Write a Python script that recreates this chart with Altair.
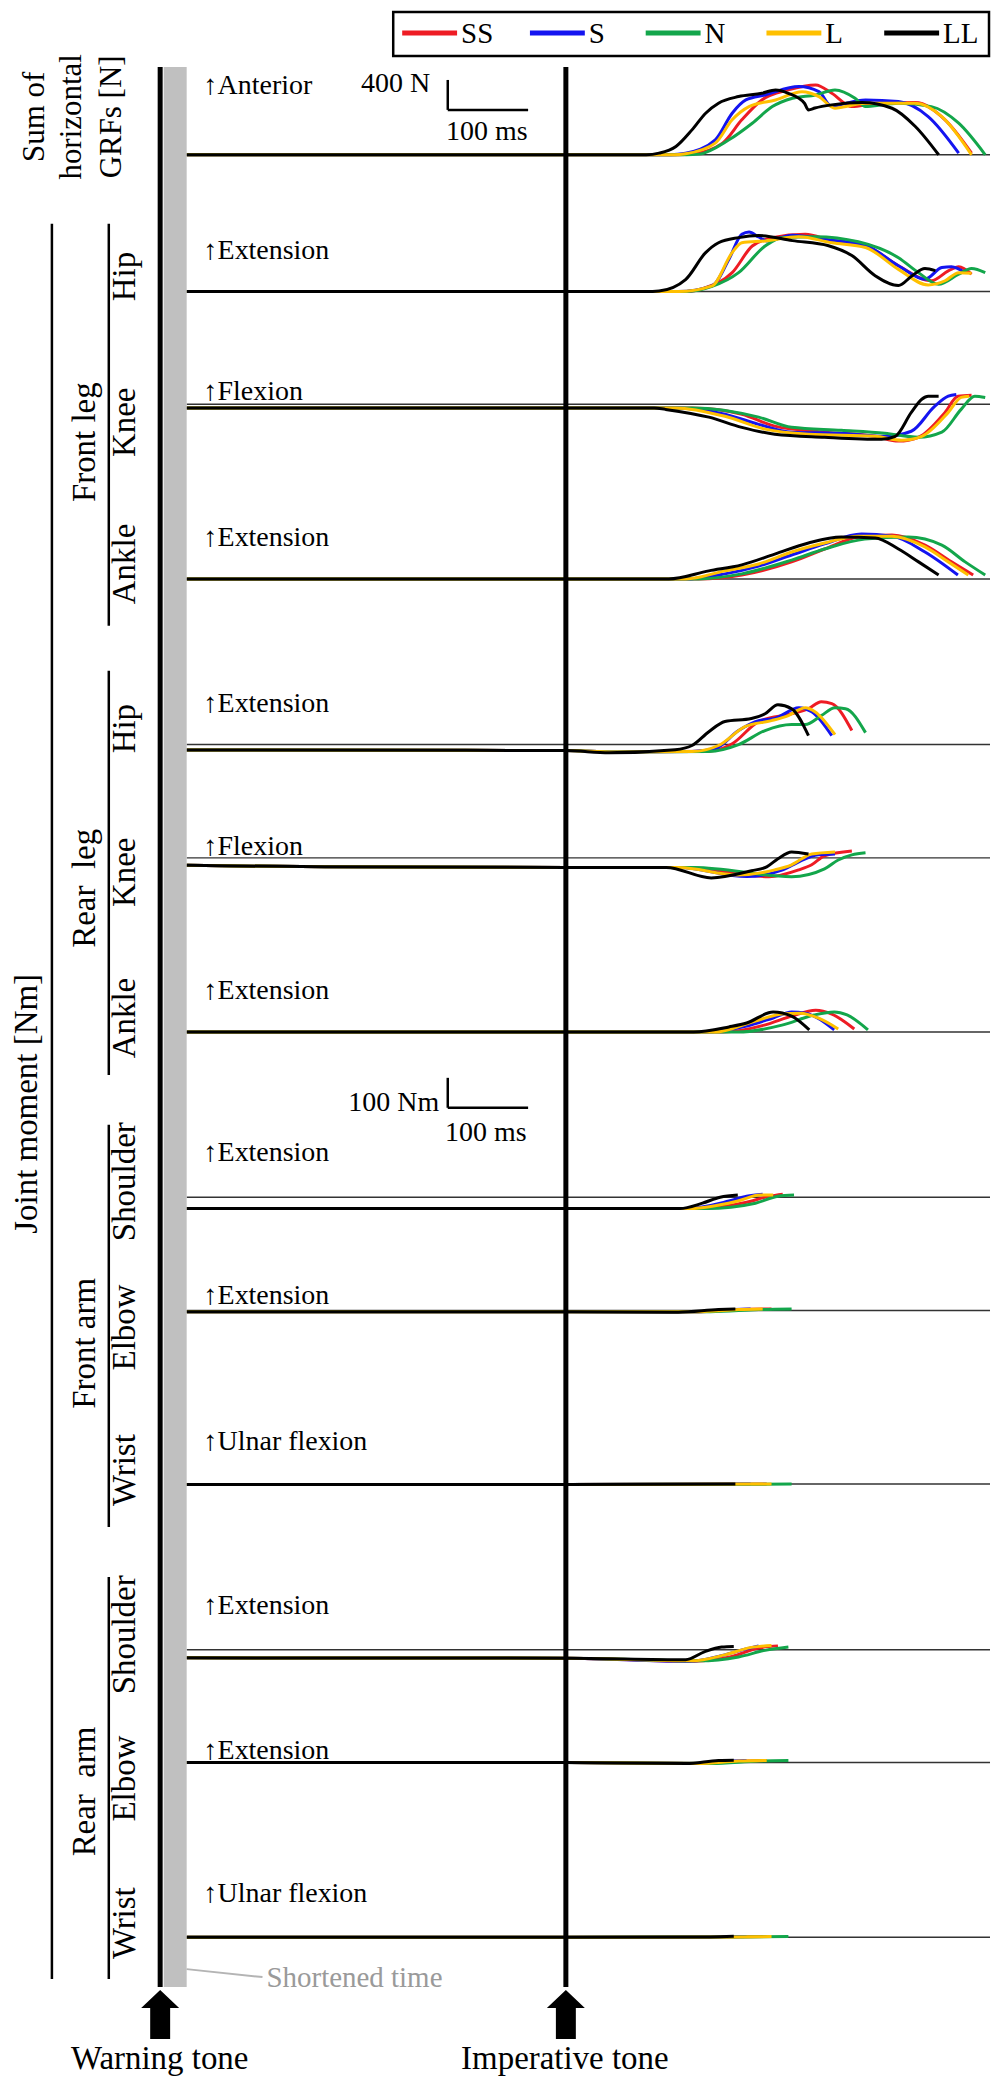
import altair as alt
import pandas as pd

SERIF = "Liberation Serif"

CONDITIONS = ["SS", "S", "N", "L", "LL"]
CONDITION_COLORS = ["#ee1c24", "#1414f0", "#13a64b", "#ffc000", "#000000"]

# (time [ms] relative to imperative tone, value) ; GRF in N, joint moments in Nm
GRF_SUM = {
    "SS": [(-472, 0), (0, 0), (140, 0), (157, 10), (195, 156), (219, 467), (244, 733), (277, 867), (311, 933), (331, 822), (356, 644), (385, 689), (435, 698), (472, 467), (505, 22)],
    "S": [(-472, 0), (0, 0), (130, 0), (149, 20), (186, 200), (207, 556), (224, 733), (248, 800), (290, 911), (315, 844), (331, 644), (340, 665), (373, 733), (414, 711), (451, 511), (489, 22)],
    "N": [(-472, 0), (0, 0), (150, 0), (166, 9), (203, 200), (232, 422), (257, 644), (282, 756), (311, 800), (335, 867), (360, 756), (373, 644), (382, 652), (414, 689), (455, 644), (489, 422), (522, 0)],
    "L": [(-472, 0), (0, 0), (135, 0), (149, 13), (186, 156), (207, 467), (228, 644), (261, 733), (294, 844), (315, 778), (335, 622), (345, 640), (373, 689), (435, 689), (468, 511), (505, 0)],
    "LL": [(-472, 0), (0, 0), (100, 0), (116, 22), (137, 111), (157, 333), (174, 556), (190, 689), (215, 778), (244, 822), (261, 867), (277, 822), (297, 689), (302, 600), (310, 625), (331, 667), (369, 698), (406, 622), (435, 378), (464, 0)],
}
FRONT_HIP = {
    "SS": [(-472, 0), (0, 0), (150, 0), (174, 13), (207, 63), (232, 152), (257, 180), (298, 191), (331, 169), (373, 152), (414, 86), (455, 36), (476, 69), (489, 83), (505, 58)],
    "S": [(-472, 0), (0, 0), (140, 0), (182, 19), (203, 108), (219, 191), (228, 199), (240, 182), (250, 169), (282, 188), (323, 174), (373, 154), (414, 86), (447, 41), (468, 80), (480, 83), (497, 63)],
    "N": [(-472, 0), (0, 0), (150, 0), (182, 17), (215, 63), (248, 152), (269, 180), (311, 183), (364, 166), (414, 113), (439, 63), (464, 24), (489, 58), (505, 77), (522, 63)],
    "L": [(-472, 0), (0, 0), (140, 0), (182, 19), (207, 130), (219, 163), (248, 169), (290, 183), (331, 163), (373, 147), (414, 74), (451, 22), (472, 36), (489, 63), (505, 61)],
    "LL": [(-472, 0), (0, 0), (100, 0), (116, 2), (149, 40), (174, 130), (190, 163), (215, 180), (240, 187), (282, 170), (327, 153), (356, 120), (385, 53), (414, 20), (431, 53), (447, 77), (460, 70)],
}
FRONT_KNEE = {
    "SS": [(-472, -12), (0, -12), (157, -12), (219, -33), (260, -73), (322, -93), (385, -107), (414, -123), (439, -110), (472, -27), (488, 27), (505, 30)],
    "S": [(-472, -12), (0, -12), (136, -12), (198, -33), (240, -67), (281, -93), (343, -97), (397, -107), (430, -90), (459, -7), (476, 27), (486, 33)],
    "N": [(-472, -12), (0, -12), (157, -12), (240, -43), (281, -77), (343, -87), (397, -97), (439, -110), (468, -93), (492, -17), (509, 27), (522, 23)],
    "L": [(-472, -12), (0, -12), (136, -12), (198, -40), (248, -83), (302, -100), (385, -107), (418, -120), (443, -107), (476, -27), (492, 23), (502, 27)],
    "LL": [(-472, -12), (0, -12), (110, -12), (124, -17), (178, -43), (219, -77), (260, -100), (322, -110), (393, -117), (410, -107), (430, -27), (443, 17), (451, 27), (464, 27)],
}
FRONT_ANKLE = {
    "SS": [(-472, 0), (0, 0), (165, 0), (219, 13), (281, 57), (322, 100), (364, 140), (406, 147), (447, 113), (480, 57), (507, 13)],
    "S": [(-472, 0), (0, 0), (149, 0), (198, 17), (240, 43), (281, 80), (322, 117), (368, 150), (406, 143), (447, 90), (488, 13)],
    "N": [(-472, 0), (0, 0), (165, 0), (219, 17), (281, 63), (322, 100), (372, 133), (426, 140), (468, 113), (497, 57), (522, 13)],
    "L": [(-472, 0), (0, 0), (149, 0), (198, 27), (240, 50), (281, 90), (322, 120), (364, 143), (406, 143), (447, 107), (476, 57), (501, 13)],
    "LL": [(-472, 0), (0, 0), (128, 0), (178, 27), (219, 47), (260, 83), (302, 120), (343, 140), (385, 137), (414, 100), (439, 57), (464, 13)],
}
REAR_HIP = {
    "SS": [(-472, -18), (0, -20), (60, -25), (178, -22), (207, 3), (240, 77), (281, 103), (302, 120), (318, 143), (331, 137), (356, 47)],
    "S": [(-472, -18), (0, -20), (60, -25), (157, -23), (186, -13), (215, 47), (240, 80), (260, 87), (290, 123), (306, 110), (331, 30)],
    "N": [(-472, -18), (0, -20), (60, -25), (178, -23), (215, 0), (248, 47), (281, 67), (298, 67), (318, 97), (335, 123), (348, 120), (373, 40)],
    "L": [(-472, -18), (0, -20), (60, -25), (157, -23), (190, -3), (223, 60), (256, 80), (277, 97), (298, 123), (310, 110), (335, 33)],
    "LL": [(-472, -18), (0, -20), (54, -27), (136, -17), (157, -3), (178, 43), (198, 77), (231, 87), (248, 103), (264, 133), (281, 120), (302, 30)],
}
REAR_KNEE = {
    "SS": [(-472, -25), (-300, -30), (0, -32), (150, -32), (253, -63), (290, -40), (306, -23), (322, 7), (356, 23)],
    "S": [(-472, -25), (-300, -30), (0, -32), (140, -32), (225, -62), (270, -40), (290, -13), (314, 10), (335, 13)],
    "N": [(-472, -25), (-300, -30), (0, -32), (160, -32), (281, -63), (322, -37), (339, -7), (356, 10), (373, 17)],
    "L": [(-472, -25), (-300, -30), (0, -32), (140, -32), (214, -57), (260, -40), (281, -23), (306, 13), (335, 20)],
    "LL": [(-472, -25), (-300, -30), (0, -32), (125, -32), (181, -67), (231, -43), (250, -30), (264, -3), (281, 20), (302, 13)],
}
REAR_ANKLE = {
    "SS": [(-472, 0), (0, 0), (196, 0), (247, 23), (281, 53), (311, 73), (331, 60), (359, 10)],
    "S": [(-472, 0), (0, 0), (170, 0), (225, 20), (258, 47), (281, 67), (298, 63), (334, 7)],
    "N": [(-472, 0), (0, 0), (214, 0), (269, 23), (309, 57), (334, 67), (350, 57), (376, 7)],
    "L": [(-472, 0), (0, 0), (185, 0), (236, 37), (269, 60), (292, 63), (314, 47), (339, 10)],
    "LL": [(-472, 0), (0, 0), (159, 0), (203, 17), (225, 30), (258, 67), (281, 53), (303, 7)],
}
FRONT_SHOULDER = {
    "SS": [(-472, -38), (0, -38), (165, -38), (225, -17), (253, 3), (270, 10)],
    "S": [(-472, -38), (0, -38), (150, -38), (203, -13), (225, 3), (245, 10)],
    "N": [(-472, -38), (0, -38), (175, -38), (236, -20), (264, 3), (284, 7)],
    "L": [(-472, -38), (0, -38), (155, -38), (214, -13), (242, 7), (258, 7)],
    "LL": [(-472, -38), (0, -38), (142, -38), (170, -20), (192, 0), (214, 7)],
}
FRONT_ELBOW = {
    "SS": [(-472, -4), (0, -4), (170, -4), (215, 3), (256, 5)],
    "S": [(-472, -4), (0, -4), (160, -4), (200, 2), (230, 5)],
    "N": [(-472, -4), (0, -4), (180, -4), (240, 3), (281, 5)],
    "L": [(-472, -4), (0, -4), (165, -4), (215, 3), (245, 5)],
    "LL": [(-472, -4), (0, -4), (140, -6), (190, 3), (211, 5)],
}
FRONT_WRIST = {
    "SS": [(-472, -1), (0, -1), (250, 0)],
    "S": [(-472, -1), (0, -1), (230, 0)],
    "N": [(-472, -1), (0, -1), (281, 0)],
    "L": [(-472, -1), (0, -1), (256, 0)],
    "LL": [(-472, -1), (0, -1), (211, 0)],
}
REAR_SHOULDER = {
    "SS": [(-472, -27), (0, -28), (160, -38), (207, -22), (240, 6), (264, 13)],
    "S": [(-472, -27), (0, -28), (153, -39), (190, -22), (223, 2), (240, 13)],
    "N": [(-472, -27), (0, -28), (165, -37), (215, -24), (248, -2), (277, 9)],
    "L": [(-472, -27), (0, -28), (157, -37), (198, -17), (231, 8), (256, 14)],
    "LL": [(-472, -27), (0, -28), (149, -33), (173, -6), (194, 9), (209, 11)],
}
REAR_ELBOW = {
    "SS": [(-472, 0), (0, 0), (170, -3), (220, 5), (250, 7)],
    "S": [(-472, 0), (0, 0), (160, -3), (200, 5), (225, 7)],
    "N": [(-472, 0), (0, 0), (180, -3), (240, 5), (277, 7)],
    "L": [(-472, 0), (0, 0), (165, -3), (215, 5), (250, 7)],
    "LL": [(-472, 0), (0, 0), (150, -3), (190, 7), (209, 8)],
}
REAR_WRIST = {
    "SS": [(-472, 0), (0, 0), (200, 1), (250, 2)],
    "S": [(-472, 0), (0, 0), (190, 1), (225, 2)],
    "N": [(-472, 0), (0, 0), (220, 1), (277, 2)],
    "L": [(-472, 0), (0, 0), (210, 1), (256, 2)],
    "LL": [(-472, 0), (0, 0), (180, 1), (209, 3)],
}

PANEL_DATA = [GRF_SUM, FRONT_HIP, FRONT_KNEE, FRONT_ANKLE, REAR_HIP, REAR_KNEE, REAR_ANKLE,
              FRONT_SHOULDER, FRONT_ELBOW, FRONT_WRIST, REAR_SHOULDER, REAR_ELBOW, REAR_WRIST]
DIRECTIONS = ["↑Anterior", "↑Extension", "↑Flexion", "↑Extension", "↑Extension", "↑Flexion", "↑Extension",
              "↑Extension", "↑Extension", "↑Ulnar flexion", "↑Extension", "↑Extension", "↑Ulnar flexion"]
JOINT_NAMES = ["Hip", "Knee", "Ankle", "Hip", "Knee", "Ankle",
               "Shoulder", "Elbow", "Wrist", "Shoulder", "Elbow", "Wrist"]
GROUP_NAMES = ["Front leg", "Rear\u00a0 leg", "Front arm", "Rear\u00a0 arm"]
GRF_TITLE = ["Sum of", "horizontal", "GRFs [N]"]
MOMENT_TITLE = "Joint moment [Nm]"
SCALE_N, SCALE_NM, SCALE_MS = 400, 100, 100

# ---------------- layout (pixels / ms) ----------------
W, H = 984, 2069
PX_PER_MS = 0.805
IMP_PX = 559
T_MIN = -IMP_PX / PX_PER_MS
T_MAX = (W - IMP_PX) / PX_PER_MS
T_START = -472
T_WARN = -505
GREY_T0, GREY_T1 = -500.6, -472
EVENT_Y0, EVENT_Y1 = 56, 1980

PANEL_BASE = [144, 281, 394, 569, 735, 848.5, 1023, 1188.5, 1302, 1476, 1642, 1755, 1930]
PANEL_GAIN = [0.075] + [0.3] * 12
DIRECTION_Y = [83, 248, 390, 536, 702, 846, 990, 1152, 1296, 1442, 1606, 1751, 1895]
JOINT_Y = [266, 412, 554, 719, 863, 1009, 1173, 1319, 1462, 1627, 1771, 1916]
GROUP_Y = [432, 879, 1335, 1784]
GROUP_SPANS = [(213, 616), (661, 1066), (1116, 1519), (1569, 1972)]
BAR_T0 = -147
GRF_BAR_V0 = 600
MOM_BAR_V0 = -253

xscale = alt.Scale(domain=[T_MIN, T_MAX], nice=False, zero=False)
cscale = alt.Scale(domain=CONDITIONS, range=CONDITION_COLORS)
ONE = pd.DataFrame({"k": [0]})


def to_df(d):
    rows = []
    for cond in CONDITIONS:
        for t, v in d[cond]:
            rows.append({"cond": cond, "t": t, "v": v})
    return pd.DataFrame(rows)


def scale_bar(yscale, v0, dv):
    df = pd.DataFrame({"t0": [BAR_T0], "t1": [BAR_T0 + SCALE_MS], "v0": [v0], "v1": [v0 + dv]})
    base = alt.Chart(df)
    vert = base.mark_rule(color="black", strokeWidth=2.5).encode(
        x=alt.X("t0:Q", scale=xscale, axis=None),
        y=alt.Y("v0:Q", scale=yscale, axis=None), y2="v1:Q")
    hori = base.mark_rule(color="black", strokeWidth=2.5).encode(
        x=alt.X("t0:Q", scale=xscale, axis=None), x2="t1:Q",
        y=alt.Y("v0:Q", scale=yscale, axis=None))
    return [vert, hori]


def panel(i):
    base_px, gain = PANEL_BASE[i], PANEL_GAIN[i]
    yscale = alt.Scale(domain=[-(H - base_px) / gain, base_px / gain], nice=False, zero=False)
    ref = alt.Chart(pd.DataFrame({"t0": [T_START], "t1": [T_MAX], "v": [0]})).mark_rule(
        color="#333333", strokeWidth=1.5).encode(
        x=alt.X("t0:Q", scale=xscale, axis=None), x2="t1:Q",
        y=alt.Y("v:Q", scale=yscale, axis=None))
    lines = alt.Chart(to_df(PANEL_DATA[i])).mark_line(strokeWidth=3, interpolate="monotone").encode(
        x=alt.X("t:Q", scale=xscale, axis=None),
        y=alt.Y("v:Q", scale=yscale, axis=None),
        color=alt.Color("cond:N", scale=cscale, legend=None, sort=CONDITIONS),
    )
    parts = [ref, lines]
    if i == 0:
        parts += scale_bar(yscale, GRF_BAR_V0, SCALE_N)
    if i == 6:
        parts += scale_bar(yscale, MOM_BAR_V0, SCALE_NM)
    return alt.layer(*parts)


def label(text, x, y, size, angle=0, align="left", baseline="alphabetic", color="black"):
    return alt.Chart(ONE).mark_text(text=text, font=SERIF, fontSize=size, angle=angle,
                                    align=align, baseline=baseline, color=color).encode(
        x=alt.value(x), y=alt.value(y))


def vline(x, y0, y1, color="black", width=2):
    return alt.Chart(ONE).mark_rule(color=color, strokeWidth=width).encode(
        x=alt.value(x), y=alt.value(y0), y2=alt.value(y1))


layers = [panel(i) for i in range(len(PANEL_DATA))]

# shortened interval and tone markers
layers.append(alt.Chart(pd.DataFrame({"t0": [GREY_T0], "t1": [GREY_T1]})).mark_rect(color="#c0c0c0").encode(
    x=alt.X("t0:Q", scale=xscale, axis=None), x2="t1:Q", y=alt.value(EVENT_Y0), y2=alt.value(EVENT_Y1)))
layers.append(alt.Chart(pd.DataFrame({"t": [T_WARN, 0]})).mark_rule(color="black", strokeWidth=5).encode(
    x=alt.X("t:Q", scale=xscale, axis=None), y=alt.value(EVENT_Y0), y2=alt.value(EVENT_Y1)))
ARROW = "M0,-1L0.776,-0.265L0.408,-0.265L0.408,1L-0.408,1L-0.408,-0.265L-0.776,-0.265Z"
layers.append(alt.Chart(pd.DataFrame({"t": [T_WARN, 0]})).mark_point(
    shape=ARROW, filled=True, color="black", opacity=1, size=2401, strokeWidth=0).encode(
    x=alt.X("t:Q", scale=xscale, axis=None), y=alt.value(2007.5)))
layers.append(label("Warning tone", 152, 2062, 33, align="center"))
layers.append(label("Imperative tone", 558, 2062, 33, align="center"))
layers.append(label("Shortened time", 259, 1980, 29, color="#9a9a9a"))
layers.append(alt.Chart(ONE).mark_rule(color="#b4b4b4", strokeWidth=2).encode(
    x=alt.value(179), x2=alt.value(255), y=alt.value(1962), y2=alt.value(1970)))

# direction labels
for txt, y in zip(DIRECTIONS, DIRECTION_Y):
    layers.append(label(txt, 196, y, 28))

# scale bar labels
layers.append(label(f"{SCALE_N} N", 423, 81, 28, align="right"))
layers.append(label(f"{SCALE_MS} ms", 439, 129, 28))
layers.append(label(f"{SCALE_NM} Nm", 432, 1102, 28, align="right"))
layers.append(label(f"{SCALE_MS} ms", 438, 1132, 28))

# left side titles
for txt, x in zip(GRF_TITLE, [27, 64, 104]):
    layers.append(label(txt, x, 106, 31, angle=270, align="center", baseline="middle"))
layers.append(label(MOMENT_TITLE, 19, 1095, 33, angle=270, align="center", baseline="middle"))
layers.append(vline(44, 213, 1972, width=2.5))
for txt, y in zip(GROUP_NAMES, GROUP_Y):
    layers.append(label(txt, 77, y, 33, angle=270, align="center", baseline="middle"))
for y0, y1 in GROUP_SPANS:
    layers.append(vline(101, y0, y1, width=2.5))
for txt, y in zip(JOINT_NAMES, JOINT_Y):
    layers.append(label(txt, 117, y, 33, angle=270, align="center", baseline="middle"))

# legend
LEGEND_SYM_X = [395, 523, 639, 760, 878]
layers.append(alt.Chart(ONE).mark_rect(fill="white", stroke="black", strokeWidth=2.5).encode(
    x=alt.value(386), x2=alt.value(983), y=alt.value(1), y2=alt.value(45)))
for cond, col, x in zip(CONDITIONS, CONDITION_COLORS, LEGEND_SYM_X):
    layers.append(alt.Chart(ONE).mark_rule(color=col, strokeWidth=5).encode(
        x=alt.value(x), x2=alt.value(x + 55), y=alt.value(22)))
    layers.append(label(cond, x + 59, 32, 29))

chart = alt.layer(*layers).resolve_scale(y="independent").properties(
    width=W, height=H, padding=0, background="white"
).configure_view(stroke=None)

chart.save("out.html", embed_options={"renderer": "svg", "actions": False})
